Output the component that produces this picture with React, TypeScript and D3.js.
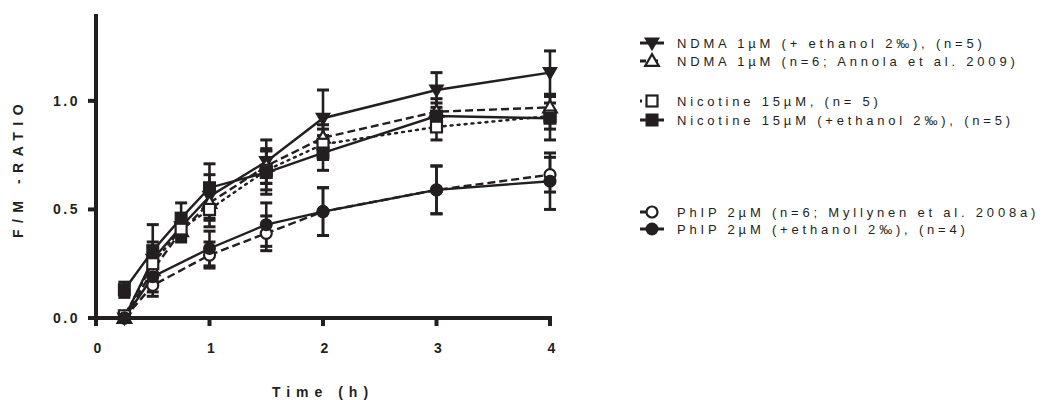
import React from "react";
import * as d3 from "d3";

// time points (h)
const timesFull = [0.25, 0.5, 0.75, 1, 1.5, 2, 3, 4];
const timesPhip = [0.25, 0.5, 1, 1.5, 2, 3, 4];

// F/M ratio means and SD
const ndmaEthMean = [0.0, 0.27, 0.42, 0.56, 0.72, 0.92, 1.05, 1.13];
const ndmaEthSd = [0.01, 0.08, 0.05, 0.1, 0.1, 0.13, 0.08, 0.1];
const ndmaAnnolaMean = [0.0, 0.22, 0.4, 0.53, 0.7, 0.83, 0.95, 0.97];
const ndmaAnnolaSd = [0.01, 0.06, 0.05, 0.08, 0.08, 0.06, 0.06, 0.06];
const nicMean = [0.01, 0.25, 0.41, 0.5, 0.68, 0.8, 0.88, 0.93];
const nicSd = [0.01, 0.08, 0.05, 0.08, 0.09, 0.07, 0.06, 0.06];
const nicEthMean = [0.13, 0.31, 0.46, 0.6, 0.67, 0.76, 0.93, 0.92];
const nicEthSd = [0.035, 0.12, 0.07, 0.11, 0.1, 0.08, 0.06, 0.1];
const phipMyllMean = [0.0, 0.15, 0.29, 0.39, 0.49, 0.59, 0.66];
const phipMyllSd = [0.01, 0.05, 0.06, 0.08, 0.11, 0.11, 0.08];
const phipEthMean = [0.0, 0.19, 0.32, 0.43, 0.49, 0.59, 0.63];
const phipEthSd = [0.01, 0.07, 0.08, 0.1, 0.11, 0.11, 0.13];

const xTicks = [0, 1, 2, 3, 4];
const yTicks = [0, 0.5, 1.0];

const ink = "#231f20";

type Series = {
  label: string;
  times: number[];
  mean: number[];
  sd: number[];
  shape: string;
  filled: boolean;
  dash: string;
};

const series: Series[] = [
  { label: "NDMA 1µM (+ ethanol 2‰), (n=5)", times: timesFull, mean: ndmaEthMean, sd: ndmaEthSd, shape: "down", filled: true, dash: "" },
  { label: "NDMA 1µM (n=6; Annola et al. 2009)", times: timesFull, mean: ndmaAnnolaMean, sd: ndmaAnnolaSd, shape: "up", filled: false, dash: "8,4" },
  { label: "Nicotine 15µM, (n= 5)", times: timesFull, mean: nicMean, sd: nicSd, shape: "square", filled: false, dash: "2,5" },
  { label: "Nicotine 15µM (+ethanol 2‰), (n=5)", times: timesFull, mean: nicEthMean, sd: nicEthSd, shape: "square", filled: true, dash: "" },
  { label: "PhIP 2µM (n=6; Myllynen et al. 2008a)", times: timesPhip, mean: phipMyllMean, sd: phipMyllSd, shape: "circle", filled: false, dash: "8,4" },
  { label: "PhIP 2µM (+ethanol 2‰), (n=4)", times: timesPhip, mean: phipEthMean, sd: phipEthSd, shape: "circle", filled: true, dash: "" },
];

const legendRows = [43, 61, 101, 120, 212, 229];

const margin = { left: 96, top: 14 };
const plotW = 454;
const plotH = 304;

function Marker({ s, x, y }: { s: Series; x: number; y: number }) {
  const fill = s.filled ? ink : "#fff";
  const sw = s.filled ? 0 : 2.2;
  if (s.shape === "circle") {
    return <circle cx={x} cy={y} r={s.filled ? 6.5 : 5.5} fill={fill} stroke={ink} strokeWidth={sw} />;
  }
  if (s.shape === "square") {
    const h = s.filled ? 6.5 : 5.5;
    return <rect x={x - h} y={y - h} width={2 * h} height={2 * h} fill={fill} stroke={ink} strokeWidth={sw} />;
  }
  const sym = d3.symbol().type(d3.symbolTriangle).size(s.filled ? 110 : 80)();
  return (
    <path
      d={sym || ""}
      transform={`translate(${x},${y + (s.shape === "down" ? -1 : 1)}) rotate(${s.shape === "down" ? 180 : 0})`}
      fill={fill}
      stroke={ink}
      strokeWidth={sw}
    />
  );
}

export default function App() {
  const x = d3.scaleLinear().domain([0, 4]).range([0, plotW]);
  const y = d3.scaleLinear().domain([0, 1.4]).range([plotH, 0]);

  return (
    <svg width={1047} height={400} style={{ position: "absolute", left: 0, top: 0 }} fontFamily="'Liberation Sans', Arial, sans-serif">
      <rect width={1047} height={400} fill="#fff" />
      <g transform={`translate(${margin.left},${margin.top})`}>
        {/* series lines */}
        {series.map((s, i) => {
          const pts = s.times.map((t, j) => [x(t), y(s.mean[j])] as [number, number]);
          return (
            <path key={"l" + i} d={d3.line()(pts) || ""} fill="none" stroke={ink} strokeWidth={2.4} strokeDasharray={s.dash} strokeLinecap={s.dash === "2,5" ? "round" : "butt"} />
          );
        })}
        {/* error bars */}
        {series.map((s, i) =>
          s.times.map((t, j) => {
            const cx = x(t);
            const top = y(s.mean[j] + s.sd[j]);
            const bot = y(Math.max(0, s.mean[j] - s.sd[j]));
            return (
              <g key={`e${i}-${j}`} stroke={ink}>
                <line x1={cx} x2={cx} y1={top} y2={bot} strokeWidth={2.6} />
                <line x1={cx - 6} x2={cx + 6} y1={top} y2={top} strokeWidth={3} />
                <line x1={cx - 6} x2={cx + 6} y1={bot} y2={bot} strokeWidth={3} />
              </g>
            );
          })
        )}
        {/* markers */}
        {series.map((s, i) =>
          s.times.map((t, j) => <Marker key={`m${i}-${j}`} s={s} x={x(t)} y={y(s.mean[j])} />)
        )}

        {/* axes */}
        <line x1={0} x2={0} y1={0} y2={plotH + 2} stroke={ink} strokeWidth={4} />
        <line x1={-2} x2={plotW + 2} y1={plotH} y2={plotH} stroke={ink} strokeWidth={4} />
        {xTicks.map((t) => (
          <g key={"xt" + t}>
            <line x1={x(t)} x2={x(t)} y1={plotH} y2={plotH + 8} stroke={ink} strokeWidth={4} />
            <text x={x(t) + 1.5} y={plotH + 35} textAnchor="middle" fontSize={14} fontWeight="bold" fill={ink}>
              {t}
            </text>
          </g>
        ))}
        {yTicks.map((t) => (
          <g key={"yt" + t}>
            <line x1={-8} x2={0} y1={y(t)} y2={y(t)} stroke={ink} strokeWidth={4} />
            <text x={-16} y={y(t) + 5} textAnchor="end" fontSize={14} fontWeight="bold" letterSpacing={2.5} fill={ink}>
              {d3.format(".1f")(t)}
            </text>
          </g>
        ))}
      </g>

      {/* axis titles */}
      <text x={323} y={397} textAnchor="middle" fontSize={14} fontWeight="bold" letterSpacing={6} fill={ink}>
        Time (h)
      </text>
      <text transform="translate(23,168) rotate(-90)" textAnchor="middle" fontSize={14} fontWeight="bold" letterSpacing={6.5} fill={ink}>
        F/M -RATIO
      </text>

      {/* legend */}
      {series.map((s, i) => {
        const ly = legendRows[i];
        return (
          <g key={"lg" + i}>
            <line x1={640} x2={664} y1={ly} y2={ly} stroke={ink} strokeWidth={3} strokeDasharray={s.dash === "" ? "" : s.dash === "2,5" ? "2,6" : "6,6"} />
            <Marker s={s} x={652} y={ly} />
            <text x={677} y={ly + 5} fontSize={13} letterSpacing={3.8} fill={ink}>
              {s.label}
            </text>
          </g>
        );
      })}
    </svg>
  );
}
